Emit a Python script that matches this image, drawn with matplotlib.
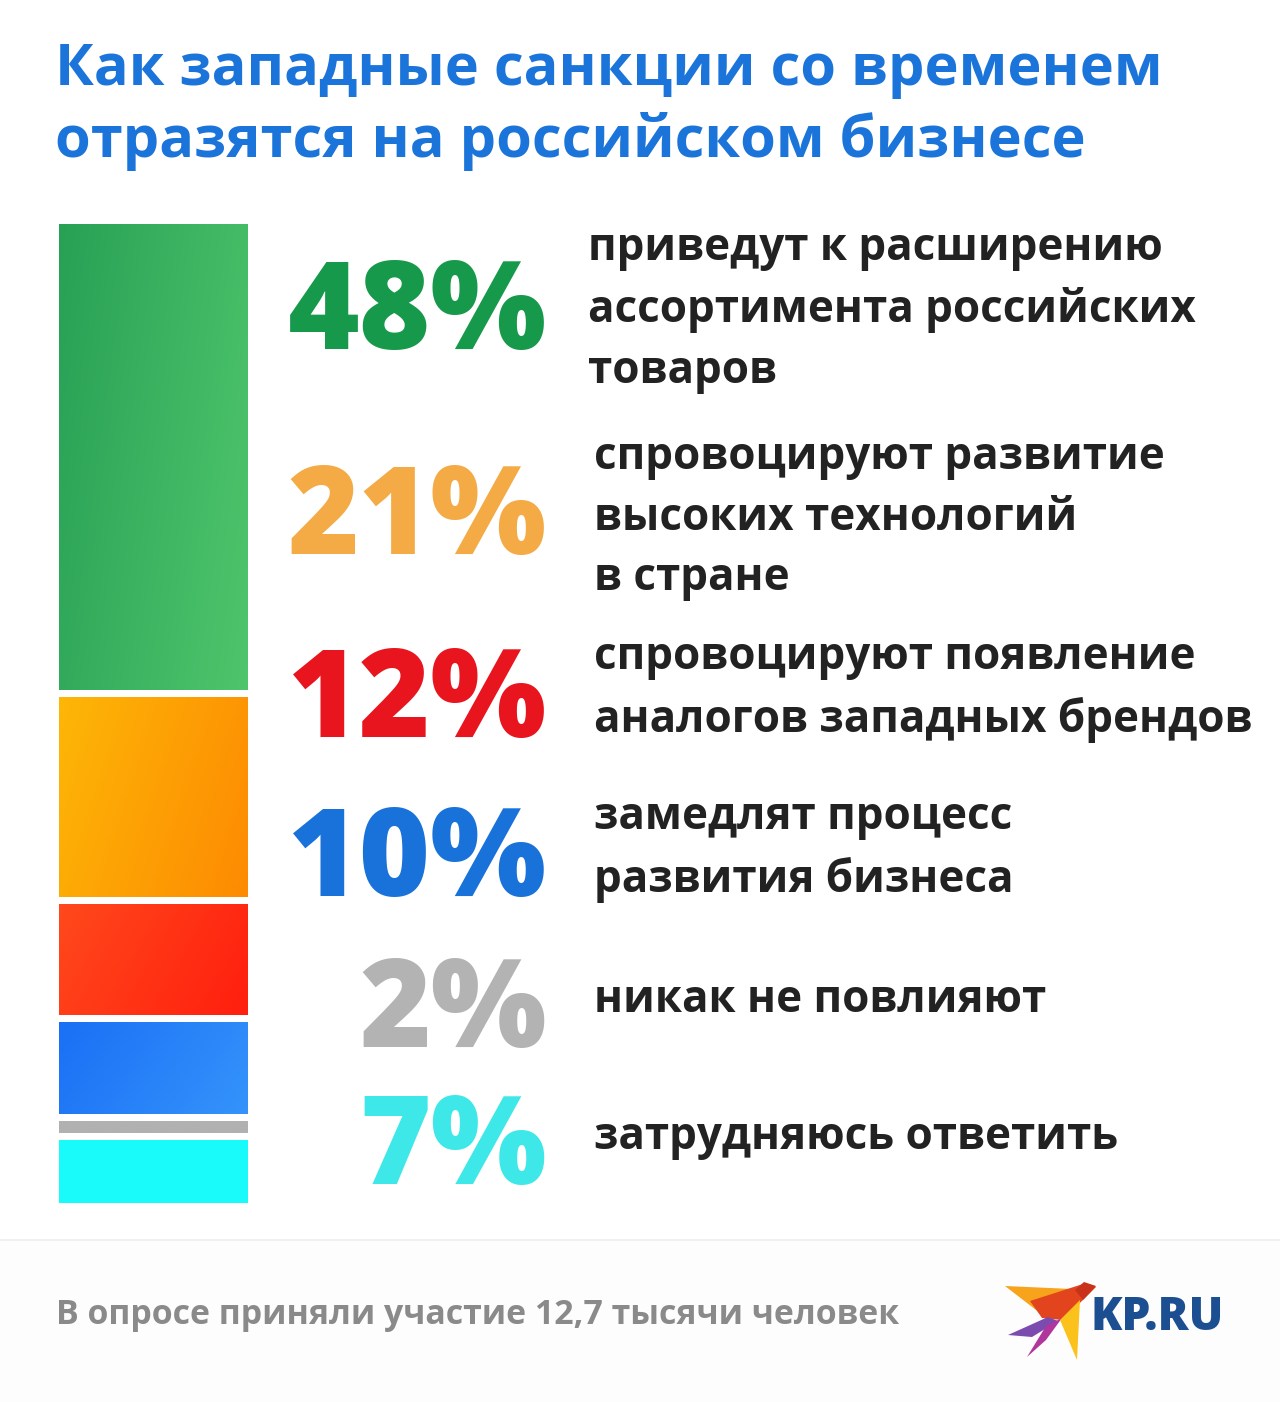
import numpy as np
import matplotlib
matplotlib.use("Agg")
import matplotlib.pyplot as plt
from matplotlib.colors import LinearSegmentedColormap
from matplotlib.patches import Polygon

# survey data
title = "Как западные санкции со временем\nотразятся на российском бизнесе"
values = [48, 21, 12, 10, 2, 7]
pct_labels = ["48%", "21%", "12%", "10%", "2%", "7%"]
descriptions = [
    "приведут к расширению\nассортимента российских\nтоваров",
    "спровоцируют развитие\nвысоких технологий\nв стране",
    "спровоцируют появление\nаналогов западных брендов",
    "замедлят процесс\nразвития бизнеса",
    "никак не повлияют",
    "затрудняюсь ответить",
]
label_colors = ["#16994a", "#f4aa45", "#e8141e", "#1872d9", "#b3b3b3", "#3fe8e8"]
bar_gradients = [
    ("#28a055", "#4fc66c"),
    ("#fdb707", "#fd8a02"),
    ("#ff4a1c", "#ff1e0e"),
    ("#1a6ff5", "#3594fb"),
    ("#b1b1b1", "#b1b1b1"),
    ("#19fbfb", "#19fbfb"),
]
footnote = "В опросе приняли участие 12,7 тысячи человек"

W, H = 1280, 1402
fig = plt.figure(figsize=(W / 100, H / 100), dpi=100)
fig.patch.set_facecolor("white")

plt.rcParams["font.family"] = ["Open Sans", "DejaVu Sans"]

# full-figure axes for text, in pixel units
ax = fig.add_axes([0, 0, 1, 1])
ax.set_xlim(0, W)
ax.set_ylim(H, 0)
ax.axis("off")

# footer band
ax.axhspan(1240, H, color="#fdfdfe", zorder=0)
ax.axhline(1240, color="#f0f0f2", lw=1.5, zorder=1)

ax.text(55, 106, title, color="#1b74d9", fontsize=41.6, fontweight="bold",
        va="center", ha="left", linespacing=1.3)

# stacked bar (white edges make the gaps, so pad the axes by half an edge)
gap = 7
bx0, bx1 = 58 - gap / 2, 247 + gap / 2
by0, by1 = 223 - gap / 2, 1202 + gap / 2
bax = fig.add_axes([bx0 / W, 1 - by1 / H, (bx1 - bx0) / W, (by1 - by0) / H])
bax.axis("off")

bottoms = np.concatenate([[0], np.cumsum(values)[:-1]])
bars = bax.bar(0, values, bottom=bottoms, width=1.0, color="none",
               edgecolor="white", linewidth=gap * 0.72)
gx, gy = np.meshgrid(np.linspace(0, 1, 128), np.linspace(0, 1, 64))
for bar, (c0, c1) in zip(bars, bar_gradients):
    cmap = LinearSegmentedColormap.from_list("g", [c0, c1])
    y0 = bar.get_y()
    y1 = y0 + bar.get_height()
    grad = 0.75 * gx + 0.25 * (1 - gy)
    im = bax.imshow(grad, cmap=cmap, aspect="auto", origin="lower",
                    extent=(-0.5, 0.5, y1, y0), zorder=1)
    im.set_clip_path(bar)
    bar.set_zorder(2)
bax.set_xlim(-0.5, 0.5)
bax.set_ylim(sum(values), 0)

# labels
pct_y = [317, 522, 705, 864, 1015, 1152]
desc_y = [310, 518, 689, 849, 1001, 1138]
desc_x = [588, 594, 594, 594, 594, 594]
for i, (p, d, c) in enumerate(zip(pct_labels, descriptions, label_colors)):
    ax.text(547, pct_y[i], p, color=c, fontsize=88, fontweight=800,
            ha="right", va="center")
    ax.text(desc_x[i], desc_y[i], d, color="#222222", fontsize=31.7,
            fontweight="bold", ha="left", va="center", linespacing=1.46)

ax.text(56, 1315, footnote, color="#8a8a8a", fontsize=24.4,
        fontweight="bold", ha="left", va="center")

# KP.RU logo
bird = [
    ([(1005, 1286), (1072, 1289), (1040, 1313)], "#f7a31c"),
    ([(1030, 1301), (1083, 1284), (1096, 1287), (1083, 1300),
      (1062, 1320), (1042, 1318)], "#e2451e"),
    ([(1008, 1335), (1048, 1317), (1058, 1321), (1032, 1337)], "#7c4bb0"),
    ([(1027, 1357), (1046, 1326), (1062, 1318), (1046, 1340)], "#b0369e"),
    ([(1060, 1320), (1080, 1300), (1077, 1360)], "#fbc21c"),
    ([(1075, 1290), (1084, 1282), (1096, 1286), (1083, 1300)], "#c8321a"),
]
for pts, col in bird:
    ax.add_patch(Polygon(pts, closed=True, color=col, lw=0))
ax.text(1090, 1318, "KP.RU", color="#1c4f92", fontsize=33, fontweight=800,
        ha="left", va="center")

fig.savefig("out.png", dpi=100, facecolor="white")
